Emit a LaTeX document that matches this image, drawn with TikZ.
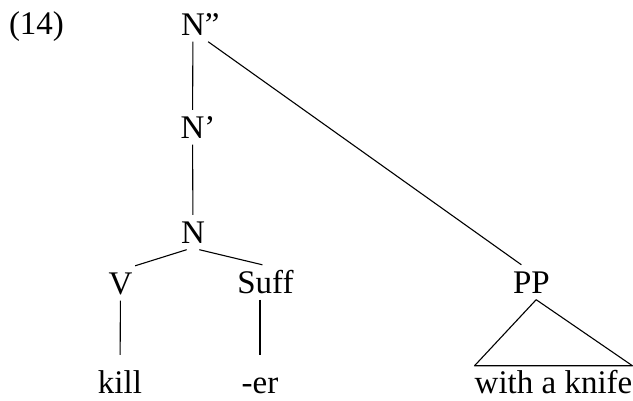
\documentclass[tikz,border=0pt]{standalone}
\usepackage{fontspec}
\setmainfont{Liberation Serif}

\begin{document}
\begin{tikzpicture}[x=1pt, y=-1pt,
  cat/.style={anchor=base, inner xsep=3pt, inner ysep=4pt,
    text height=25pt, text depth=1.5pt,
    font=\fontsize{33}{36}\selectfont},
  word/.style={cat, inner ysep=2pt, text depth=0pt},
  treeEdge/.style={line width=1.1pt},
  leafEdge/.style={treeEdge, shorten >=11pt}]

\useasboundingbox (0,0) rectangle (633,401);

% --- EXAMPLE NUMBER ---
\node[cat] (exNum) at (36.5,35) {(14)};

% --- CATEGORY NODES (N letters aligned, primes hang right) ---
\node[cat] (Npp)  at (193,36)    {N\rlap{''}};
\node[cat] (Np)   at (192.5,139) {N\rlap{'}};
\node[cat] (N)    at (193,244)   {N};
\node[cat] (V)    at (120.5,295) {V};
\node[cat] (Suff) at (265.5,294) {Suff};
\node[cat] (PP)   at (531.5,294) {PP};

% --- WORDS ---
\node[word] (kill) at (120,393) {kill};
\node[word] (er)   at (260,393) {-er};
\node[word, inner xsep=0pt] (knife) at (553.5,393) {with a knife};

% --- BRANCHES ---
\draw[treeEdge] (Npp) -- (Np);
\draw[treeEdge] (Np) -- (N);
\draw[treeEdge] (N.-110) -- (V.50);
\draw[treeEdge] (N.-70) -- (Suff.100);
\draw[leafEdge] (V) -- (kill);
\draw[leafEdge] (Suff.south -| er.north) -- (er.north);
\draw[treeEdge] (Npp.south east) -- (PP.120);

% --- TRIANGLE OVER PP ---
\draw[treeEdge, line join=round]
  (PP.-75) -- (knife.north west) -- (knife.north east) -- cycle;

\end{tikzpicture}
\end{document}
